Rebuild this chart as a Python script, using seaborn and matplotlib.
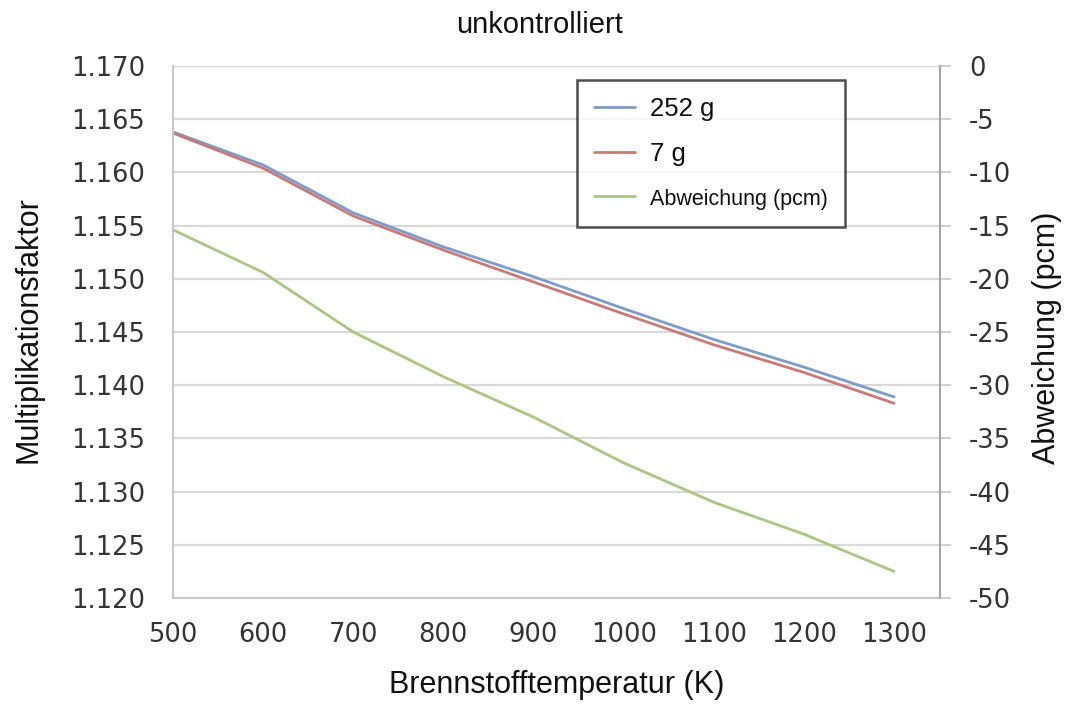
import matplotlib
matplotlib.use("Agg")
import matplotlib.pyplot as plt
import pandas as pd
import seaborn as sns

# Brennstofftemperatur (K)
temperatures = [500, 600, 700, 800, 900, 1000, 1100, 1200, 1300]
# Multiplikationsfaktor für beide Varianten
k_252g = [1.1638, 1.1607, 1.1562, 1.1530, 1.1502, 1.1472, 1.1443, 1.1417, 1.1389]
k_7g = [1.1637, 1.1604, 1.1559, 1.1527, 1.1497, 1.1467, 1.1438, 1.1412, 1.1383]
# Abweichung zwischen den Varianten in pcm
abweichung_pcm = [-15.4, -19.4, -25.0, -29.2, -33.0, -37.3, -41.0, -44.0, -47.5]

left_ticks = [1.120, 1.125, 1.130, 1.135, 1.140, 1.145, 1.150, 1.155, 1.160, 1.165, 1.170]
right_ticks = [-50, -45, -40, -35, -30, -25, -20, -15, -10, -5, 0]

df = pd.DataFrame({
    "T": temperatures,
    "252 g": k_252g,
    "7 g": k_7g,
    "Abweichung (pcm)": abweichung_pcm,
})

sns.set_theme(style="white")
plt.rcParams["font.family"] = ["DejaVu Sans"]
plt.rcParams["axes.unicode_minus"] = False

BLUE = "#7c9dc9"
RED = "#c97a78"
GREEN = "#abc682"
TEXT = "#333333"
ARIAL = ["Liberation Sans", "DejaVu Sans"]

fig = plt.figure(figsize=(10.67, 7.04), dpi=100)
ax = fig.add_axes([173 / 1067, 106 / 704, 767 / 1067, 532 / 704])
ax2 = ax.twinx()

sns.lineplot(data=df, x="T", y="252 g", ax=ax, color=BLUE, linewidth=2.0, label="252 g", legend=False)
sns.lineplot(data=df, x="T", y="7 g", ax=ax, color=RED, linewidth=2.0, label="7 g", legend=False)
sns.lineplot(data=df, x="T", y="Abweichung (pcm)", ax=ax2, color=GREEN, linewidth=2.0,
             label="Abweichung (pcm)", legend=False)

ax.set_xlim(500, 1351)
ax.set_ylim(1.120, 1.170)
ax2.set_ylim(-50, 0)
ax.set_xticks(temperatures)
ax.set_xticklabels([str(t) for t in temperatures])
ax.set_yticks(left_ticks)
ax.set_yticklabels([f"{v:.3f}" for v in left_ticks])
ax2.set_yticks(right_ticks)
ax2.set_yticklabels([str(v) for v in right_ticks])

# horizontal gridlines from the left axis
ax.yaxis.grid(True, color="#d9d9d9", linewidth=1.6)
ax.xaxis.grid(False)
ax2.grid(False)
ax.set_axisbelow(True)

for a in (ax, ax2):
    a.spines["top"].set_visible(False)
ax2.spines["left"].set_visible(False)
ax2.spines["bottom"].set_visible(False)
ax.spines["right"].set_visible(False)
ax.spines["left"].set_color("#c8c8c8")
ax.spines["left"].set_linewidth(1.5)
ax.spines["bottom"].set_color("#c8c8c8")
ax.spines["bottom"].set_linewidth(1.5)
ax2.spines["right"].set_color("#a6a6a6")
ax2.spines["right"].set_linewidth(1.5)

ax.tick_params(axis="x", direction="in", length=5, width=1.2, color="#a6a6a6",
               labelsize=18.5, labelcolor=TEXT, pad=17)
ax.tick_params(axis="y", length=0, labelsize=18.5, labelcolor=TEXT, pad=20)
ax2.tick_params(axis="y", direction="out", length=8, width=1.2, color="#c8c8c8",
                labelsize=18.5, labelcolor=TEXT, pad=13)

ax.set_xlabel("Brennstofftemperatur (K)", fontsize=22, family=ARIAL, color="#111111")
ax.xaxis.label.set_va("center")
ax.xaxis.set_label_coords(0.5, -0.163)
ax.set_ylabel("Multiplikationsfaktor", fontsize=22, family=ARIAL, color="#111111")
ax.yaxis.label.set_va("center")
ax.yaxis.set_label_coords(-0.188, 0.505)
ax2.set_ylabel("Abweichung (pcm)", fontsize=22, family=ARIAL, color="#111111")
ax2.yaxis.label.set_va("center")
ax2.yaxis.set_label_coords(1.14, 0.49)

fig.text(540 / 1067, 1 - 25 / 704, "unkontrolliert", ha="center", va="center",
         fontsize=21, family=ARIAL, color="#111111")

handles = ax.get_lines()[:2] + ax2.get_lines()[:1]
labels = ["252 g", "7 g", "Abweichung (pcm)"]
leg = fig.legend(handles, labels, loc="upper left",
                 bbox_to_anchor=(577 / 1067, 1 - 80 / 704), bbox_transform=fig.transFigure,
                 prop={"family": ARIAL, "size": 18.5}, frameon=True, fancybox=False,
                 shadow=False, handlelength=1.6, handletextpad=0.6, labelspacing=0.82,
                 borderpad=0.65, borderaxespad=0)
leg.get_frame().set_edgecolor("#222222")
leg.get_frame().set_linewidth(1.8)
leg.get_texts()[2].set_fontsize(15.5)
for t in leg.get_texts():
    t.set_color("#111111")

fig.savefig("out.png", dpi=100)
